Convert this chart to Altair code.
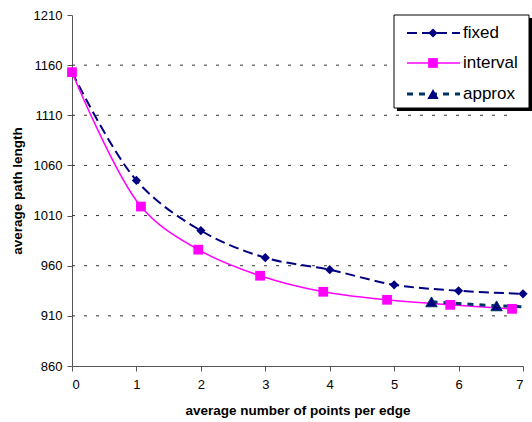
import altair as alt
import pandas as pd

# ---- data ----
fixed_x = [0, 1, 2, 3, 4, 5, 6, 7]
fixed_y = [1153, 1045, 995, 968, 956, 941, 935, 932]

interval_x = [0, 1.07, 1.96, 2.92, 3.9, 4.89, 5.87, 6.83]
interval_y = [1153, 1019, 976, 950, 934, 926, 921, 917]

approx_x = [5.58, 6.59, 7.0]
approx_y = [924, 920, 919]
approx_marked = [True, True, False]

grid_values = [910, 960, 1010, 1060, 1110, 1160]
y_ticks = [860, 910, 960, 1010, 1060, 1110, 1160, 1210]
x_ticks = [0, 1, 2, 3, 4, 5, 6, 7]

legend_names = ["fixed", "interval", "approx"]

FONT = "Liberation Sans"
NAVY = "#000080"
MAGENTA = "#FF00FF"
APPROX_LINE = "#003366"

fixed_df = pd.DataFrame({"x": fixed_x, "y": fixed_y})
interval_df = pd.DataFrame({"x": interval_x, "y": interval_y})
approx_df = pd.DataFrame({"x": approx_x, "y": approx_y, "m": approx_marked})
grid_df = pd.DataFrame({"y": grid_values})

xs = alt.Scale(domain=[0, 7], nice=False)
ys = alt.Scale(domain=[860, 1210], nice=False)

X = alt.X("x:Q", scale=xs,
          axis=alt.Axis(values=x_ticks, title="average number of points per edge",
                        grid=False, tickSize=5, labelPadding=7, titlePadding=12))
Y = alt.Y("y:Q", scale=ys,
          axis=alt.Axis(values=y_ticks, format="d", title="average path length",
                        grid=False, tickSize=5, labelPadding=5, titlePadding=9))

grid = alt.Chart(grid_df).mark_rule(color="#333333", strokeWidth=1, strokeDash=[3, 9]).encode(
    y=Y, x=alt.value(0), x2=alt.value(442)
)

fixed_line = alt.Chart(fixed_df).mark_line(
    color=NAVY, strokeWidth=2, strokeDash=[10, 5], interpolate="catmull-rom"
).encode(x=X, y=Y)
fixed_pts = alt.Chart(fixed_df).mark_point(
    shape="diamond", filled=True, color=NAVY, size=85, opacity=1
).encode(x=X, y=Y)

interval_line = alt.Chart(interval_df).mark_line(
    color=MAGENTA, strokeWidth=1.5, interpolate="catmull-rom"
).encode(x=X, y=Y)
interval_pts = alt.Chart(interval_df).mark_point(
    shape="square", filled=True, color=MAGENTA, size=95, opacity=1
).encode(x=X, y=Y)

approx_line = alt.Chart(approx_df).mark_line(
    color=APPROX_LINE, strokeWidth=3, strokeDash=[6, 6]
).encode(x=X, y=Y)
approx_pts = alt.Chart(approx_df).transform_filter("datum.m").mark_point(
    shape="triangle-up", filled=True, color=NAVY, size=130, opacity=1,
    stroke=APPROX_LINE, strokeWidth=1
).encode(x=X, y=Y)

# ---- legend box (drawn by hand) ----
one = pd.DataFrame({"a": [0]})
LX0, LX1, LY0, LY1 = 322, 457, 0, 93
shadow = alt.Chart(one).mark_rect(color="black").encode(
    x=alt.value(LX0 + 3), x2=alt.value(LX1 + 3), y=alt.value(LY0 + 3), y2=alt.value(LY1 + 3))
box = alt.Chart(one).mark_rect(fill="white", stroke="black", strokeWidth=1).encode(
    x=alt.value(LX0), x2=alt.value(LX1), y=alt.value(LY0), y2=alt.value(LY1))

legend_layers = [shadow, box]
rows_y = [18, 48, 79]
styles = [
    dict(color=NAVY, dash=[10, 5], width=2, shape="diamond", size=85, fill=NAVY),
    dict(color=MAGENTA, dash=[1, 0], width=1.5, shape="square", size=95, fill=MAGENTA),
    dict(color=APPROX_LINE, dash=[6, 6], width=3, shape="triangle-up", size=130, fill=NAVY),
]
for name, ry, st in zip(legend_names, rows_y, styles):
    ldf = pd.DataFrame({"name": [name]})
    legend_layers.append(
        alt.Chart(ldf).mark_rule(color=st["color"], strokeWidth=st["width"], strokeDash=st["dash"]).encode(
            x=alt.value(335), x2=alt.value(388), y=alt.value(ry)))
    legend_layers.append(
        alt.Chart(ldf).mark_point(shape=st["shape"], filled=True, color=st["fill"], size=st["size"], opacity=1).encode(
            x=alt.value(361), y=alt.value(ry)))
    legend_layers.append(
        alt.Chart(ldf).mark_text(align="left", baseline="middle", font=FONT, fontSize=17, color="black").encode(
            x=alt.value(391), y=alt.value(ry), text="name:N"))

chart = alt.layer(
    grid, fixed_line, interval_line, approx_line, fixed_pts, interval_pts, approx_pts,
    *legend_layers
).properties(
    width=451, height=351,
    padding={"left": 72, "top": 15, "right": 9, "bottom": 56},
    autosize="none",
    background="white",
).configure_view(stroke=None).configure_axis(
    labelFont=FONT, titleFont=FONT, labelFontSize=13, titleFontSize=13.5,
    titleFontWeight="bold", labelColor="black", titleColor="black",
    domainColor="#555555", tickColor="#555555", domainWidth=1,
)

chart.save("out.html", embed_options={"renderer": "svg", "actions": False})
